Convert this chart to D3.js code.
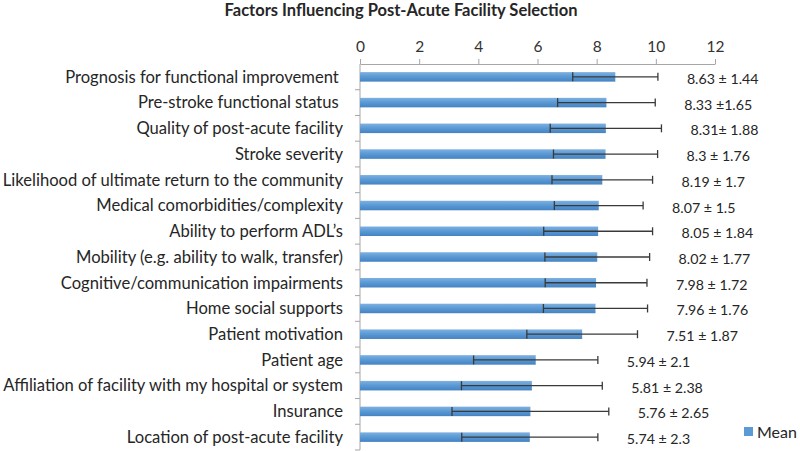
<!DOCTYPE html>
<html><head><meta charset="utf-8">
<script src="https://cdn.jsdelivr.net/npm/d3@7"></script>
<style>
html,body{margin:0;padding:0;background:#fff;}
svg{display:block;font-family:Lato,"Open Sans",sans-serif;}
</style></head>
<body><svg id="c" width="800" height="451"></svg>
<script>
const title = "Factors Influencing Post-Acute Facility Selection";
const categories = [
  "Prognosis for functional improvement ",
  "Pre-stroke functional status ",
  "Quality of post-acute facility",
  "Stroke severity",
  "Likelihood of ultimate return to the community",
  "Medical comorbidities/complexity",
  "Ability to perform ADL\u2019s",
  "Mobility (e.g. ability to walk, transfer)",
  "Cognitive/communication impairments",
  "Home social supports",
  "Patient motivation",
  "Patient age",
  "Affiliation of facility with my hospital or system",
  "Insurance",
  "Location of post-acute facility"
];
const means = [8.63, 8.33, 8.31, 8.3, 8.19, 8.07, 8.05, 8.02, 7.98, 7.96, 7.51, 5.94, 5.81, 5.76, 5.74];
const sds   = [1.44, 1.65, 1.88, 1.76, 1.7, 1.5, 1.84, 1.77, 1.72, 1.76, 1.87, 2.1, 2.38, 2.65, 2.3];
const valueLabels = ["8.63 \u00b1 1.44","8.33 \u00b11.65","8.31\u00b1 1.88","8.3 \u00b1 1.76","8.19 \u00b1 1.7","8.07 \u00b1 1.5","8.05 \u00b1 1.84","8.02 \u00b1 1.77","7.98 \u00b1 1.72","7.96 \u00b1 1.76","7.51 \u00b1 1.87","5.94 \u00b1 2.1","5.81 \u00b1 2.38","5.76 \u00b1 2.65","5.74 \u00b1 2.3"];
const xTicks = [0, 2, 4, 6, 8, 10, 12];
const seriesName = "Mean";

const data = categories.map((c, i) => ({cat: c, mean: means[i], sd: sds[i], label: valueLabels[i]}));

const svg = d3.select("#c");
const defs = svg.append("defs");
const grad = defs.append("linearGradient").attr("id", "barGrad").attr("x1", 0).attr("y1", 0).attr("x2", 0).attr("y2", 1);
grad.append("stop").attr("offset", "0%").attr("stop-color", "#7fb0e0");
grad.append("stop").attr("offset", "45%").attr("stop-color", "#5b9bd5");
grad.append("stop").attr("offset", "100%").attr("stop-color", "#4582c2");

const x = d3.scaleLinear().domain([0, 12]).range([360, 715]);
const y = d3.scaleBand().domain(categories).range([64, 450]).paddingInner(0.63).paddingOuter(0.315);

// title
svg.append("text").attr("x", 401).attr("y", 16).attr("text-anchor", "middle")
  .attr("font-weight", "bold").attr("font-size", 16.5).attr("fill", "#262626").text(title);

// top axis
const xAxis = svg.append("g").attr("transform", "translate(0,64)")
  .call(d3.axisTop(x).tickValues(xTicks).tickSize(5).tickSizeOuter(0).tickPadding(7).tickFormat(d3.format("d")));
xAxis.select(".domain").attr("stroke", "#a6a6a6");
xAxis.selectAll(".tick line").attr("stroke", "#a6a6a6");
xAxis.selectAll(".tick text").attr("font-size", 15.5).attr("fill", "#333").attr("font-family", "Lato,sans-serif");

// left axis line and boundary ticks
const step = y.step();
const gap = step - y.bandwidth();
const yg = svg.append("g");
yg.append("line").attr("x1", x(0)).attr("x2", x(0)).attr("y1", 64).attr("y2", 450).attr("stroke", "#a6a6a6");
const bounds = categories.map(c => y(c) - gap / 2).concat([y(categories[categories.length - 1]) + y.bandwidth() + gap / 2]);
yg.selectAll("line.bt").data(bounds.slice(1)).join("line").attr("class", "bt")
  .attr("x1", x(0) - 5).attr("x2", x(0)).attr("y1", d => d).attr("y2", d => d).attr("stroke", "#a6a6a6");

// category labels
svg.append("g").selectAll("text").data(data).join("text")
  .attr("x", 343).attr("y", d => y(d.cat) + y.bandwidth() / 2)
  .attr("dy", "0.35em").attr("text-anchor", "end").style("white-space", "pre")
  .attr("font-size", 16.6).attr("fill", "#262626").text(d => d.cat);

// bars
svg.append("g").selectAll("rect").data(data).join("rect")
  .attr("x", x(0)).attr("y", d => y(d.cat)).attr("width", d => x(d.mean) - x(0))
  .attr("height", y.bandwidth()).attr("fill", "url(#barGrad)");

// error bars
const eg = svg.append("g").attr("stroke", "#3a3a3a").attr("stroke-width", 1.3);
data.forEach(d => {
  const cy = y(d.cat) + y.bandwidth() / 2;
  const x0 = x(d.mean - d.sd), x1 = x(d.mean + d.sd);
  eg.append("line").attr("x1", x0).attr("x2", x1).attr("y1", cy).attr("y2", cy);
  eg.append("line").attr("x1", x0).attr("x2", x0).attr("y1", cy - 4.5).attr("y2", cy + 4.5);
  eg.append("line").attr("x1", x1).attr("x2", x1).attr("y1", cy - 4).attr("y2", cy + 4);
});

// value labels
svg.append("g").selectAll("text").data(data).join("text")
  .attr("x", d => x(d.mean + d.sd) + 29).attr("y", d => y(d.cat) + y.bandwidth() / 2 + 2)
  .attr("dy", "0.35em").attr("font-size", 14.2).attr("fill", "#262626").style("white-space", "pre")
  .text(d => d.label);

// legend
svg.append("rect").attr("x", 744).attr("y", 427).attr("width", 9).attr("height", 9).attr("fill", "#5b9bd5");
svg.append("text").attr("x", 757).attr("y", 432).attr("dy", "0.35em").attr("font-size", 16).attr("fill", "#262626").text(seriesName);
</script></body></html>
